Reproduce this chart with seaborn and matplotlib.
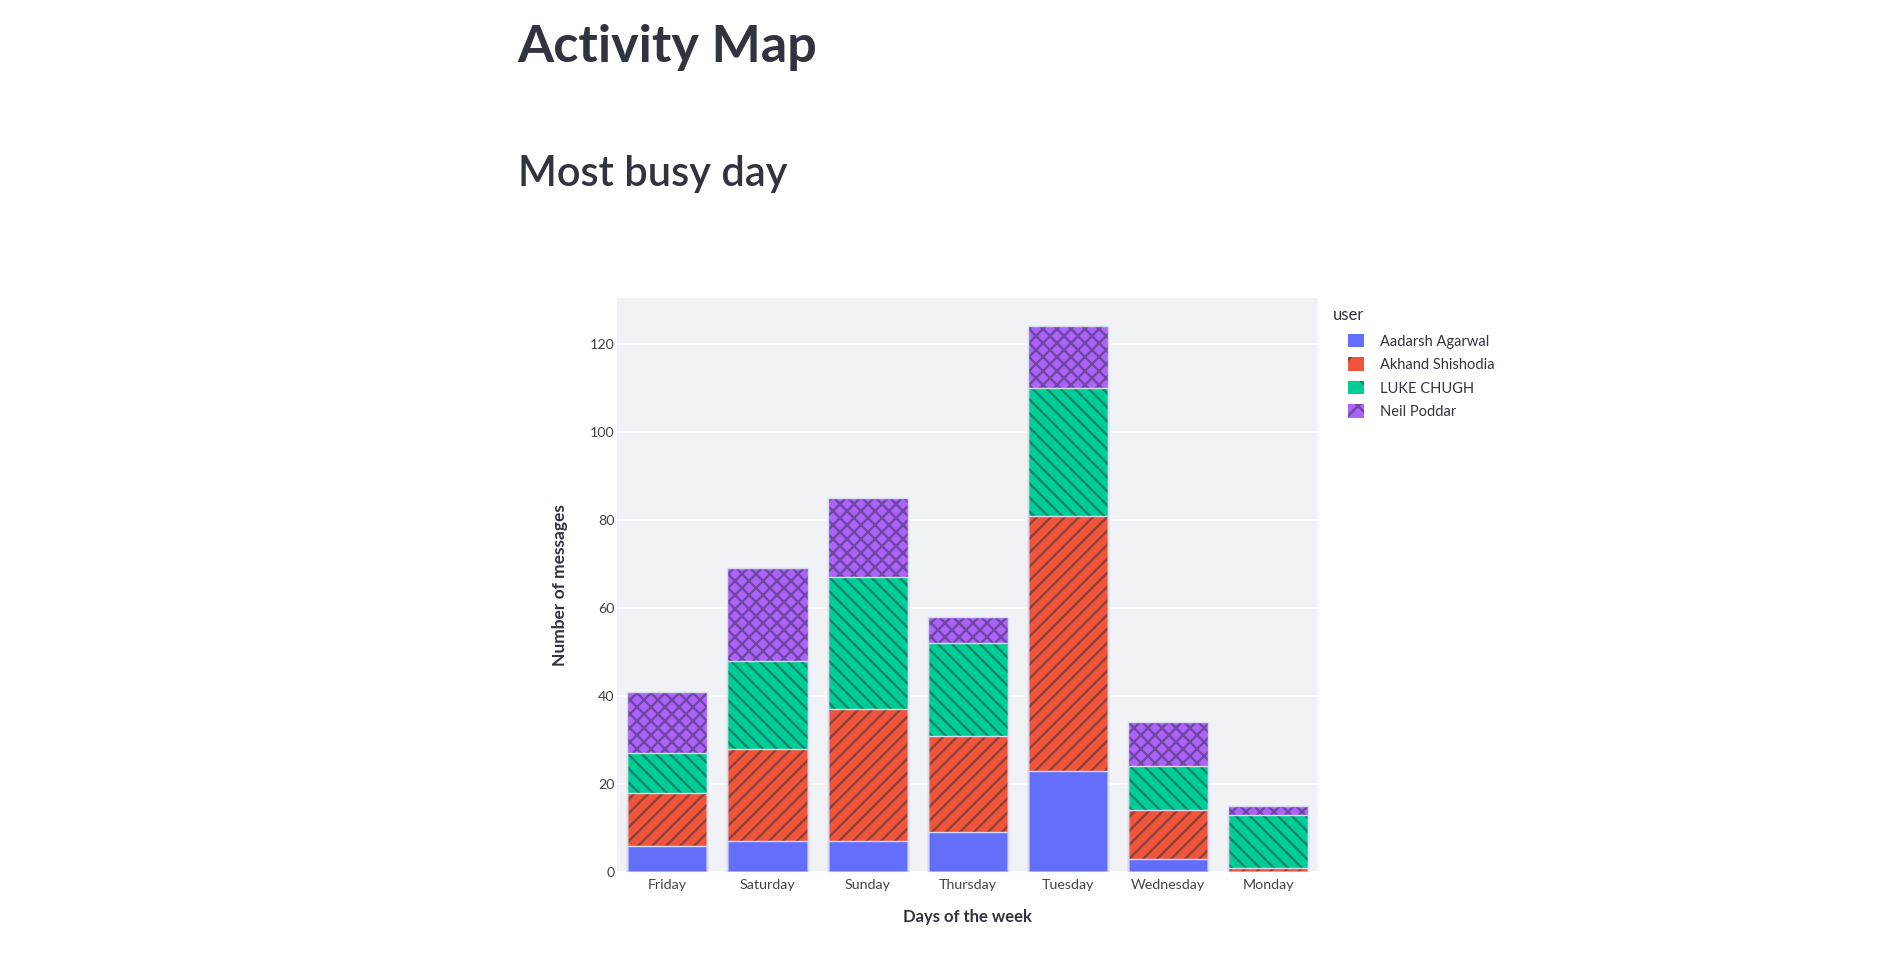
import numpy as np
import pandas as pd
import seaborn as sns
import matplotlib.pyplot as plt
from matplotlib.patches import Patch

# Data
days = ["Friday", "Saturday", "Sunday", "Thursday", "Tuesday", "Wednesday", "Monday"]
users = ["Aadarsh Agarwal", "Akhand Shishodia", "LUKE CHUGH", "Neil Poddar"]
aadarsh = [6, 7, 7, 9, 23, 3, 0]
akhand = [12, 21, 30, 22, 58, 11, 1]
luke = [9, 20, 30, 21, 29, 10, 12]
neil = [14, 21, 18, 6, 14, 10, 2]

colors = ["#636efa", "#ef553b", "#00cc96", "#ab63fa"]
hatches = ["", "//", "\\\\", "xx"]
hatch_col = (0.12, 0.12, 0.18, 0.42)
edge_col = "#d9dcef"
text_col = "#31333f"

# saved at 84 dpi so the hatch cells come out ~14 px like the original;
# S converts "100 dpi points" into points at this dpi
DPI = 84
S = 100 / DPI

df = pd.DataFrame({
    "day": days * 4,
    "user": np.repeat(users, len(days)),
    "count": aadarsh + akhand + luke + neil,
})
# running total per day, so the bars can be drawn as overlapping stacks
df["top"] = df.groupby("day")["count"].cumsum()

sns.set_style("white")
plt.rcParams["font.family"] = ["Lato", "DejaVu Sans"]
plt.rcParams["hatch.linewidth"] = 1.7 * S

fig = plt.figure(figsize=(1899.5 / DPI, 963.5 / DPI), dpi=DPI)
ax = fig.add_axes([0.325, 0.0945, 0.369, 0.596])
ax.set_facecolor("#f0f2f6")

# fills + hatches, tallest stack first
for user, col, h in reversed(list(zip(users, colors, hatches))):
    sub = df[df["user"] == user]
    sns.barplot(data=sub, x="day", y="top", order=days, color=col, saturation=1,
                hatch=h, edgecolor=hatch_col, linewidth=0, width=0.8,
                errorbar=None, ax=ax, zorder=3)

# thin light outlines around every segment
for user in users:
    sub = df[df["user"] == user]
    sns.barplot(data=sub, x="day", y="top", order=days, color=edge_col, saturation=1,
                facecolor="none", edgecolor=edge_col, linewidth=1.0 * S, width=0.8,
                errorbar=None, ax=ax, zorder=4)

ax.set_ylim(0, 130.5)
ax.set_xlim(-0.5, 6.5)
ax.set_yticks(range(0, 121, 20))
ax.grid(axis="y", color="white", linewidth=1.2 * S, zorder=0)
ax.set_axisbelow(True)
for s in ax.spines.values():
    s.set_visible(False)
ax.tick_params(axis="both", length=0, labelsize=10.3 * S, labelcolor="#444444")
ax.tick_params(axis="x", pad=5 * S)
ax.tick_params(axis="y", pad=2 * S)

ax.set_xlabel("Days of the week", fontsize=12 * S, fontweight="bold", color=text_col,
              labelpad=13 * S)
ax.set_ylabel("Number of messages", fontsize=12.5 * S, fontweight="bold", color=text_col,
              labelpad=16 * S)

# legend: title as separate text, entries indented under it
fig.text(1333 / 1899, 1 - 315 / 963, "user", fontsize=12 * S, color=text_col,
         va="center", ha="left")
handles = [Patch(facecolor=c, edgecolor=hatch_col, linewidth=0) for c in colors]
leg = fig.legend(handles, users, loc="upper left",
                 bbox_to_anchor=(1348 / 1899, 1 - 334 / 963), frameon=False,
                 fontsize=10.5 * S, handlelength=1.05, handleheight=1.05,
                 handletextpad=1.15, labelspacing=0.6, borderpad=0, borderaxespad=0)
# single hatch stroke in the small swatches, like the original
for p, h in zip(leg.get_patches(), ["", "/", "\\", "x"]):
    p.set_hatch(h)
for t in leg.get_texts():
    t.set_color(text_col)

fig.text(517 / 1899, 1 - 62 / 963, "Activity Map", fontsize=37.5 * S, fontweight="bold",
         color=text_col, va="baseline", ha="left")
fig.text(518 / 1899, 1 - 186 / 963, "Most busy day", fontsize=30 * S, fontweight="semibold",
         color=text_col, va="baseline", ha="left")

fig.savefig("out.png", dpi=DPI, facecolor="white")
